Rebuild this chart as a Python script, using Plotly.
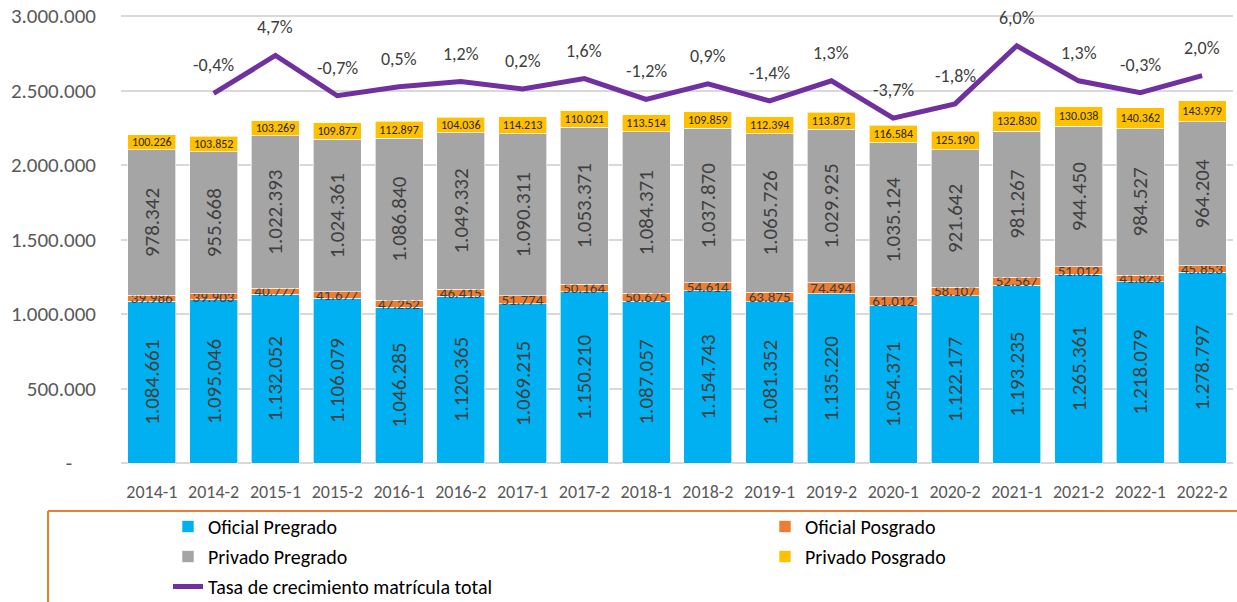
import plotly.graph_objects as go

periods = ["2014-1", "2014-2", "2015-1", "2015-2", "2016-1", "2016-2", "2017-1", "2017-2", "2018-1",
           "2018-2", "2019-1", "2019-2", "2020-1", "2020-2", "2021-1", "2021-2", "2022-1", "2022-2"]
oficial_pregrado = [1084661, 1095046, 1132052, 1106079, 1046285, 1120365, 1069215, 1150210, 1087057,
                    1154743, 1081352, 1135220, 1054371, 1122177, 1193235, 1265361, 1218079, 1278797]
oficial_posgrado = [39986, 39903, 40777, 41677, 47252, 46415, 51774, 50164, 50675,
                    54614, 63875, 74494, 61012, 58107, 52567, 51012, 41823, 45853]
privado_pregrado = [978342, 955668, 1022393, 1024361, 1086840, 1049332, 1090311, 1053371, 1084371,
                    1037870, 1065726, 1029925, 1035124, 921642, 981267, 944450, 984527, 964204]
privado_posgrado = [100226, 103852, 103269, 109877, 112897, 104036, 114213, 110021, 113514,
                    109859, 112394, 113871, 116584, 125190, 132830, 130038, 140362, 143979]
tasa_crecimiento = [None, -0.4, 4.7, -0.7, 0.5, 1.2, 0.2, 1.6, -1.2,
                    0.9, -1.4, 1.3, -3.7, -1.8, 6.0, 1.3, -0.3, 2.0]
y_tickvals = [0, 500000, 1000000, 1500000, 2000000, 2500000, 3000000]
y_ticktext = ["-" + "\u00a0" * 5, "500.000", "1.000.000", "1.500.000", "2.000.000", "2.500.000", "3.000.000"]

FONT = "Calibri, Carlito, Lato, sans-serif"
W, H = 1237, 602
# plot area: x 121..1233, y 16 (3.000.000) .. 463 (0); small padding so edge gridlines show
PAD = 3
ML, MR, MT, MB = 121, 4, 16 - PAD, 139 - PAD
PW, PH = W - ML - MR, H - MT - MB
Y_PAD = 3000000 * PAD / 447

fig = go.Figure()

def bar(name, vals, color, size, angle, tcolor, legend):
    fig.add_trace(go.Bar(
        x=periods, y=vals, name=name, legend=legend, legendgroup=name,
        marker=dict(color=color, line=dict(color="rgba(255,255,255,0.8)", width=0.8)),
        texttemplate="%{y:,.0f}", textposition="inside", insidetextanchor="middle",
        textangle=angle, constraintext="none",
        textfont=dict(family=FONT, size=size, color=tcolor),
        hoverinfo="skip",
    ))

bar("Oficial Pregrado", oficial_pregrado, "#00B0F0", 21, -90, "#404040", "legend")
bar("Oficial Posgrado", oficial_posgrado, "#ED7D31", 15, 0, "#404040", "legend2")
bar("Privado Pregrado", privado_pregrado, "#A5A5A5", 21, -90, "#404040", "legend")
bar("Privado Posgrado", privado_posgrado, "#FFC000", 12, 0, "#262626", "legend2")

fig.add_trace(go.Scatter(
    x=periods, y=tasa_crecimiento, name="Tasa de crecimiento matrícula total",
    legend="legend", legendgroup="tasa",
    mode="lines", line=dict(color="#7030A0", width=5), yaxis="y2", connectgaps=False,
    hoverinfo="skip",
))

for p, v in zip(periods, tasa_crecimiento):
    if v is None:
        continue
    fig.add_annotation(
        x=p, y=v, xref="x", yref="y2", yshift=28, showarrow=False,
        text=f"{v:.1f}%".replace(".", ","),
        font=dict(family=FONT, size=18, color="#404040"),
    )

# legend frame (orange lines), given in page pixels
def px_x(px):
    return (px - ML) / PW

def px_y(py):
    return (H - MB - py) / PH

fig.add_shape(type="line", xref="paper", yref="paper", x0=px_x(48), x1=px_x(1245),
              y0=px_y(511), y1=px_y(511), line=dict(color="#ED7D31", width=2))
fig.add_shape(type="line", xref="paper", yref="paper", x0=px_x(48), x1=px_x(48),
              y0=px_y(511), y1=px_y(610), line=dict(color="#ED7D31", width=2))

legend_common = dict(
    orientation="v", xref="container", yref="container",
    xanchor="left", yanchor="top", tracegroupgap=1,
    font=dict(family=FONT, size=20, color="#000000"),
    traceorder="grouped", bgcolor="rgba(0,0,0,0)",
)

# y2 range chosen so 0% sits at the 2.500.000 line, -50%..10% over the 0..3.000.000 span
y2_pad = 60 * PAD / 447

fig.update_layout(
    width=W, height=H,
    margin=dict(l=ML, r=MR, t=MT, b=MB, autoexpand=False),
    barmode="stack", bargap=0.223,
    separators=",.",
    plot_bgcolor="white", paper_bgcolor="white",
    font=dict(family=FONT, color="#595959"),
    hovermode=False,
    xaxis=dict(
        type="category", automargin=False,
        tickfont=dict(family=FONT, size=18, color="#595959"),
        ticks="", showgrid=False, showline=False, ticklabelstandoff=10 + PAD,
    ),
    yaxis=dict(
        range=[-Y_PAD, 3000000 + Y_PAD], tickvals=y_tickvals, ticktext=y_ticktext,
        automargin=False,
        tickfont=dict(family=FONT, size=21, color="#595959"), ticklabeloverflow="allow",
        showgrid=True, gridcolor="#D9D9D9", gridwidth=1.5, zeroline=False,
        ticks="", ticklabelstandoff=24,
    ),
    yaxis2=dict(
        range=[-50 - y2_pad, 10 + y2_pad], overlaying="y", side="right", showgrid=False,
        showticklabels=False, zeroline=False, ticks="",
    ),
    legend=dict(x=168 / W, y=1 - 507 / H, **legend_common),
    legend2=dict(x=765 / W, y=1 - 507 / H, **legend_common),
)

fig.write_html("out.html", config={"displayModeBar": False},
               post_script="document.body.style.margin='0';")
